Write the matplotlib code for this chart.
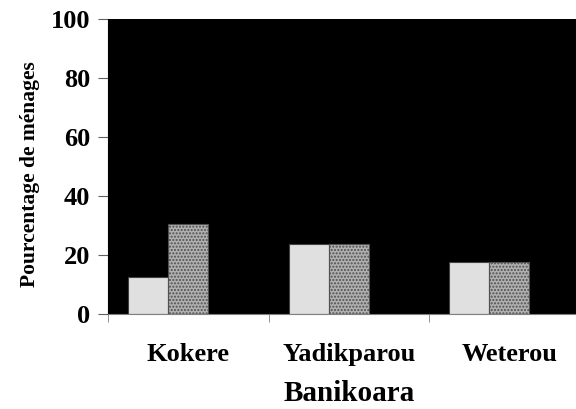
import numpy as np
import matplotlib.pyplot as plt

# data
villages = ["Kokere", "Yadikparou", "Weterou"]
serie1 = [12.7, 23.7, 17.7]
serie2 = [30.6, 23.7, 17.7]
serie3 = [0, 0, 0]   # empty third series (keeps Excel-like spacing)
yticks = [0, 20, 40, 60, 80, 100]

plt.rcParams['font.family'] = ['Liberation Serif', 'DejaVu Serif']
plt.rcParams['font.weight'] = 'bold'

fig = plt.figure(figsize=(5.76, 4.09), dpi=100)
ax = fig.add_axes([0.188, 0.2315, 0.835, 0.7213])
ax.set_facecolor('black')

x = np.arange(len(villages))
w = 0.25
ax.bar(x - w, serie1, w, color='#e0e0e0', edgecolor='#404040', linewidth=0.8)
ax.bar(x, serie2, w, color='#b0b0b0', edgecolor='#505050', linewidth=0.8, hatch='.....')
ax.bar(x + w, serie3, w, color='white', edgecolor='none')

ax.set_xlim(-0.5, 2.5)
ax.set_ylim(0, 100)
ax.set_yticks(yticks)
ax.set_yticklabels([str(v) for v in yticks], fontsize=19, fontweight='bold')
ax.set_xticks(x)
ax.set_xticklabels(villages, fontsize=19, fontweight='bold')
ax.set_xticks([-0.5, 0.5, 1.5, 2.5], minor=True)
ax.tick_params(axis='x', which='major', length=0, pad=20.5)
ax.tick_params(axis='x', which='minor', length=6, color='#808080', direction='out')
ax.tick_params(axis='y', length=7, color='#606060', direction='out', pad=6)

for s in ['top', 'right']:
    ax.spines[s].set_visible(False)
ax.spines['bottom'].set_color('#808080')
ax.spines['left'].set_color('black')

ax.set_ylabel("Pourcentage de ménages", fontsize=15.5, fontweight='bold')
ax.yaxis.set_label_coords(-0.142, 0.475)
ax.set_xlabel("Banikoara", fontsize=21, fontweight='bold', labelpad=10)

fig.savefig("out.png", dpi=100)
